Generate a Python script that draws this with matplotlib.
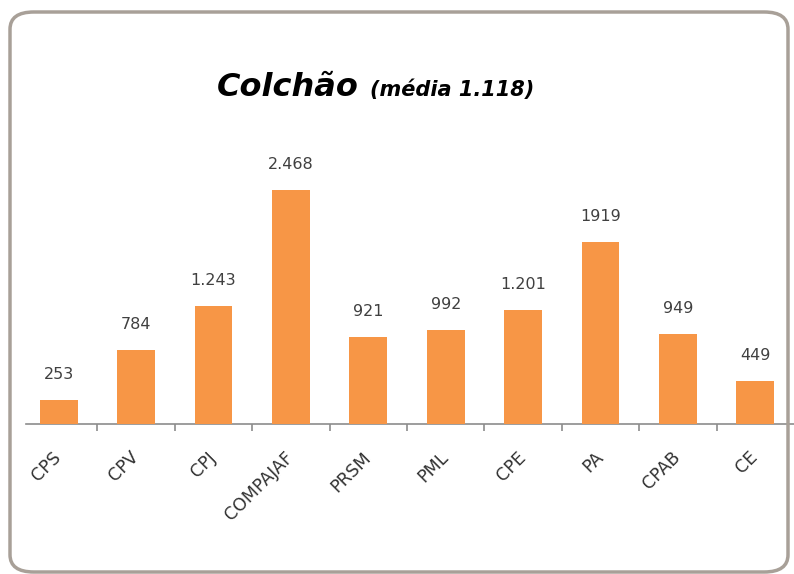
import matplotlib.pyplot as plt
from matplotlib.patches import FancyBboxPatch
import numpy as np

# chart data
categories = ['CPS', 'CPV', 'CPJ', 'COMPAJAF', 'PRSM', 'PML', 'CPE', 'PA', 'CPAB', 'CE']
values = [253, 784, 1243, 2468, 921, 992, 1201, 1919, 949, 449]
value_labels = ['253', '784', '1.243', '2.468', '921', '992', '1.201', '1919', '949', '449']
title_main = 'Colchão'
title_note = '(média 1.118)'

bar_color = '#F79646'
text_color = '#404040'

plt.rcParams['font.family'] = ['DejaVu Sans']

W, H = 794, 574
fig = plt.figure(figsize=(W / 100, H / 100), dpi=100)
fig.patch.set_facecolor('white')

# rounded frame around the whole chart (no fill so the axes show through)
frame = FancyBboxPatch((10 / W, 2 / H), 778 / W, 560 / H,
                       boxstyle='round,pad=0,rounding_size=0.03',
                       transform=fig.transFigure, facecolor='none',
                       edgecolor='#A8A098', linewidth=2.5, zorder=5)
fig.patches.append(frame)

# axes placed in pixel terms: baseline at y=424, categories ~77.4 px wide
left, right = 20, 794
bottom, top = 424, 120
ax = fig.add_axes([left / W, (H - bottom) / H, (right - left) / W, (bottom - top) / H])
ax.set_facecolor('none')

x = np.arange(len(categories))
bars = ax.bar(x, values, width=0.49, color=bar_color, zorder=3)

for xi, v, lab in zip(x, values, value_labels):
    ax.annotate(lab, (xi, v), xytext=(0, 13), textcoords='offset points',
                ha='center', va='bottom', fontsize=11.5, color=text_color)

ax.set_xlim(-0.5, len(categories) - 0.5)
ax.set_ylim(0, 3210)

for side in ['left', 'right', 'top']:
    ax.spines[side].set_visible(False)
ax.spines['bottom'].set_color('#8C8C8C')
ax.spines['bottom'].set_linewidth(1.2)
ax.spines['bottom'].set_bounds(-0.42, len(categories) - 0.5)
ax.set_yticks([])

ax.set_xticks(x)
ax.set_xticklabels(categories, rotation=45, ha='right', va='center',
                   rotation_mode='anchor', fontsize=12.5, color='#333333')
ax.tick_params(axis='x', which='major', length=0, pad=22)
# separators between categories only (none at the outer edges)
ax.set_xticks(np.arange(1, len(categories)) - 0.5, minor=True)
ax.tick_params(axis='x', which='minor', length=5, width=1.2, color='#8C8C8C', direction='out')

# title in two pieces, big name + smaller note
fig.text(359 / W, (H - 96) / H, title_main, ha='right', va='baseline',
         fontsize=23, fontweight='bold', fontstyle='italic', color='black')
fig.text(370 / W, (H - 96) / H, title_note, ha='left', va='baseline',
         fontsize=15, fontweight='bold', fontstyle='italic', color='black')

fig.savefig('out.png', dpi=100, facecolor='white')
